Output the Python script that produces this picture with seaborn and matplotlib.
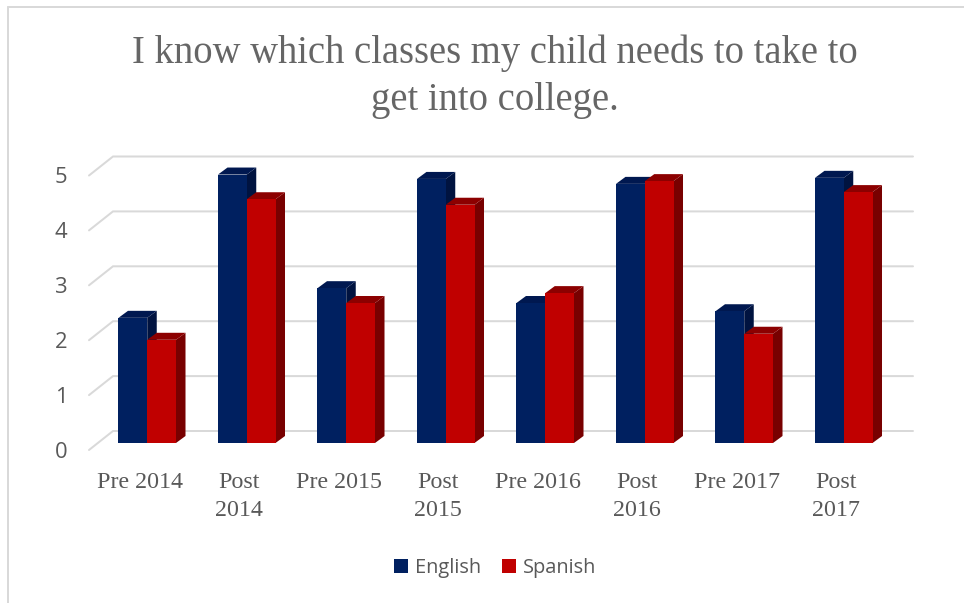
import matplotlib
matplotlib.use("Agg")
import matplotlib.pyplot as plt
from matplotlib.lines import Line2D
from matplotlib.patches import Polygon
from matplotlib.transforms import ScaledTranslation
import pandas as pd
import seaborn as sns

# Survey scores by administration
periods = ["Pre 2014", "Post\n2014", "Pre 2015", "Post\n2015",
           "Pre 2016", "Post\n2016", "Pre 2017", "Post\n2017"]
english = [2.28, 4.89, 2.82, 4.81, 2.55, 4.72, 2.40, 4.83]
spanish = [1.88, 4.44, 2.55, 4.34, 2.73, 4.77, 1.99, 4.57]
title = "I know which classes my child needs to take to\nget into college."

W, H = 964, 603
DPI = 100
PX = 72 / DPI
GREY = "#595959"
GRID = "#d9d9d9"
SLAB = "Liberation Serif"
SANS = "Open Sans"

df = pd.DataFrame({
    "period": periods * 2,
    "score": english + spanish,
    "language": ["English"] * len(periods) + ["Spanish"] * len(periods),
})

sns.set_theme(style="white")
fig = plt.figure(figsize=(W / DPI, H / DPI), dpi=DPI, facecolor="white")

# Axes span the front plane of the bars
left, right, base, unit = 97.5, 893.5, 443.0, 54.9
ymax = 5.5
ax = fig.add_axes([left / W, (H - base) / H, (right - left) / W, ymax * unit / H])
ax.set_facecolor("none")

sns.barplot(data=df, x="period", y="score", hue="language",
            palette={"English": "#002060", "Spanish": "#C00000"},
            width=0.578, gap=0, saturation=1, ax=ax, zorder=3,
            linewidth=0, edgecolor="none")
ax.set_xlim(-0.5, len(periods) - 0.5)
ax.set_ylim(0, ymax)
ax.set_xlabel("")
ax.set_ylabel("")
sns.despine(ax=ax, left=True, bottom=True)

xunit = (right - left) / len(periods)


def to_x(px):
    return (px - left) / xunit - 0.5


def to_y(px):
    return (base - px) / unit


# Back wall gridlines with the diagonal run on the side wall
ticks = [0, 1, 2, 3, 4, 5]
for v in ticks:
    yb = to_y(431) + v
    yf = to_y(450) + v
    ax.plot([to_x(89), to_x(113), to_x(913)], [yf, yb, yb], color=GRID, lw=2 * PX,
            clip_on=False, zorder=0.5, solid_joinstyle="miter")

# Extruded side and top faces of each bar
dx = 9.5 / xunit
dy = 7.0 / unit
shades = [("#001340", "#001850"), ("#780000", "#8c0000")]
for k, (container, (side, top)) in enumerate(zip(ax.containers, shades)):
    for bar in container:
        x0, w, h = bar.get_x(), bar.get_width(), bar.get_height()
        x1 = x0 + w
        ax.add_patch(Polygon([(x1, 0), (x1 + dx, dy), (x1 + dx, h + dy), (x1, h)],
                             closed=True, fc=side, ec="none", clip_on=False, zorder=1 + k))
        ax.add_patch(Polygon([(x0, h), (x0 + dx, h + dy), (x1 + dx, h + dy), (x1, h)],
                             closed=True, fc=top, ec="none", clip_on=False, zorder=1 + k))

# Tick labels sit away from the bars, in their own faces
ax.set_yticks(ticks)
ax.tick_params(axis="y", length=0, pad=30 * PX, labelsize=22 * PX, labelcolor=GREY)
ax.tick_params(axis="x", length=0, pad=29 * PX, labelsize=24 * PX, labelcolor=GREY)
y_shift = ScaledTranslation(0, -7 / DPI, fig.dpi_scale_trans)
for lab in ax.get_yticklabels():
    lab.set_fontfamily(SANS)
    lab.set_transform(lab.get_transform() + y_shift)
x_shift = ScaledTranslation(-7.5 / DPI, 0, fig.dpi_scale_trans)
for lab in ax.get_xticklabels():
    lab.set_fontfamily(SLAB)
    lab.set_linespacing(1.42)
    lab.set_transform(lab.get_transform() + x_shift)

sns.move_legend(ax, "center", bbox_to_anchor=(495 / W, (H - 568) / H),
                bbox_transform=fig.transFigure, ncol=2, title=None, frameon=False,
                prop={"family": SANS, "size": 20 * PX}, labelcolor=GREY,
                handlelength=14 / 20, handleheight=14 / 20, handletextpad=7 / 20,
                columnspacing=21 / 20, borderpad=0)

fig.text(495 / W, 1 - 77 / H, title, ha="center", va="center", family=SLAB,
         fontsize=38.6 * PX, color="#666666", linespacing=1.34)

# Thin frame along the top and left edges
frame = dict(color=GRID, lw=2 * PX, transform=fig.transFigure)
fig.add_artist(Line2D([7.5 / W, 7.5 / W], [0, 1 - 6.5 / H], **frame))
fig.add_artist(Line2D([7.5 / W, 1], [1 - 6.5 / H, 1 - 6.5 / H], **frame))

fig.savefig("out.png", dpi=DPI, facecolor="white")
